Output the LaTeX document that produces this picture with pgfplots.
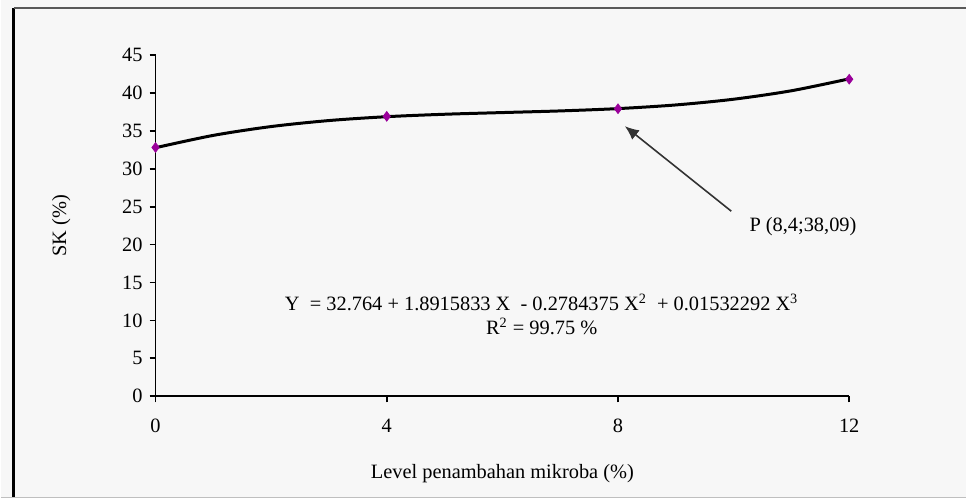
\documentclass[border=0pt]{standalone}
\usepackage{pgfplots}
\pgfplotsset{compat=1.18}
\usepackage{fontspec}
\setmainfont{Liberation Serif}
\usetikzlibrary{arrows.meta}
\definecolor{bg}{HTML}{F7F7F7}
\definecolor{mk}{HTML}{9A009A}
\begin{document}
\begin{tikzpicture}[x=0.5pt,y=0.5pt]
\fill[bg] (0,0) rectangle (967,499);
\draw[black,line width=1.5pt] (13,0) -- (13,491);
\draw[black!65,line width=1pt] (13,491) -- (967,491);
\draw[black!25,line width=0.8pt] (0,0.5) -- (967,0.5);
\begin{axis}[
  at={(77.5pt,51pt)}, anchor=south west,
  scale only axis, width=347.5pt, height=171pt,
  xmin=0, xmax=12, ymin=0, ymax=45,
  axis x line*=bottom, axis y line*=left,
  axis line style={-, black, line width=0.9pt},
  xtick={0,4,8,12}, ytick={0,5,...,45},
  tick align=outside, major tick length=3pt,
  tick style={black, line width=0.9pt},
  /pgf/number format/assume math mode=true,
  tick label style={font=\fontsize{10.2}{12}\selectfont},
  xticklabel style={yshift=-5pt},
  xlabel={Level penambahan mikroba (\%)},
  ylabel={SK (\%)},
  label style={font=\fontsize{10.2}{12}\selectfont},
  xlabel style={yshift=-9pt},
  ylabel style={yshift=19pt},
  clip=false,
]
\addplot[black, line width=1.5pt, smooth, no marks] coordinates {
(0,32.764) (1,34.392) (2,35.556) (3,36.347) (4,36.856) (5,37.177) (6,37.400)
(7,37.617) (8,37.922) (9,38.405) (10,39.159) (11,40.276) (12,41.846)};
\addplot[only marks, mark=diamond*, mark size=2.4pt, mk, mark options={draw=mk,fill=mk}] coordinates {
(0,32.8) (4,36.9) (8,37.9) (12,41.8)};
\draw[-{Latex[length=7pt,width=6pt]}, black!80, line width=0.8pt] (axis cs:9.96,24.4) -- (axis cs:8.12,35.6);
\node[font=\fontsize{10.2}{12}\selectfont] at (axis cs:11.2,22.4) {P (8,4;38,09)};
\node[font=\fontsize{10.2}{12}\selectfont, align=center] at (axis cs:6.68,10.8) {Y\ \ = 32.764 + 1.8915833 X\ \ - 0.2784375 X\textsuperscript{2}\ \ + 0.01532292 X\textsuperscript{3}\\R\textsuperscript{2} = 99.75 \%};
\end{axis}
\end{tikzpicture}
\end{document}
